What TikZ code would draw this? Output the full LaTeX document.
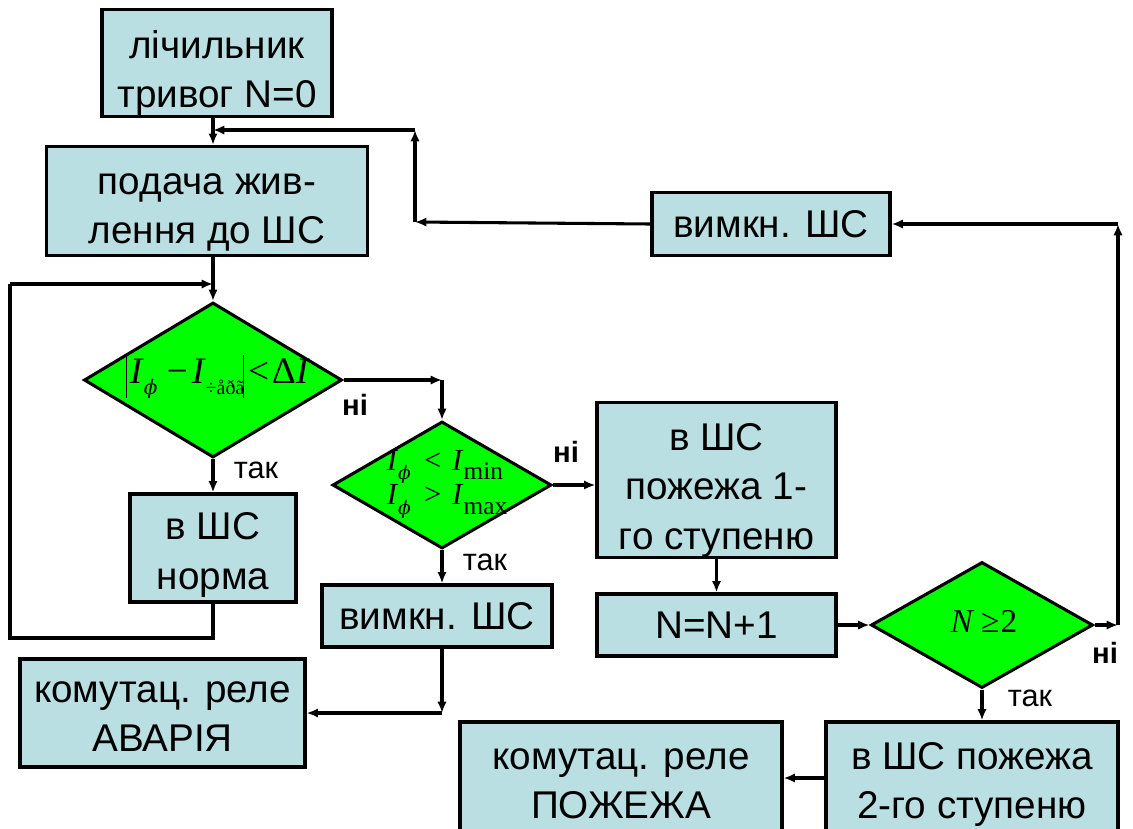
\documentclass[tikz,border=0pt]{standalone}
\usepackage{fontspec}
\setmainfont{Liberation Sans}
\newfontfamily\formfont{Liberation Serif}
\newfontfamily\grfont{DejaVu Serif}
\usetikzlibrary{shapes.geometric,arrows.meta}
\definecolor{boxfill}{RGB}{186,223,227}
\definecolor{decfill}{RGB}{0,255,0}
% lowered index for the formulas
\newcommand\lowidx[2]{\raisebox{-0.3em}{\fontsize{#1}{#1}\selectfont #2}}
\newcommand\phiidx{{\grfont\itshape ϕ}}
\newcommand\absbar{\rule[-0.4em]{0.8pt}{1.16em}}
% invisible strut that pushes a block's text down
\newcommand\topgap[1]{\rule{0pt}{#1}}
\begin{document}
\begin{tikzpicture}[x=0.75pt,y=-0.75pt,
  sz/.style 2 args={minimum width={#1*0.75pt},minimum height={#2*0.75pt}},
  block/.style={draw=black,line width=2.4pt,fill=boxfill,align=center,
    font=\fontsize{29}{37}\selectfont,inner sep=0pt},
  decision/.style={diamond,draw=black,line width=2.3pt,fill=decfill,
    inner sep=0pt,aspect=1.7},
  conn/.style={line width=2.3pt,-{Latex[length=8.5pt,width=7pt]}},
  plain/.style={line width=2.3pt},
  lbl/.style={font=\fontsize{23}{26}\selectfont,inner sep=0pt},
  nolbl/.style={font=\bfseries\fontsize{22}{26}\selectfont,inner sep=0pt},
  formula/.style={inner sep=0pt,anchor=base}
]
\useasboundingbox (0,0) rectangle (1133,829);
\clip (0,0) rectangle (1133,829);

% processing blocks
\node[block,sz={230}{107}] (b1) at (217,63) {\topgap{36pt}лічильник\\тривог N=0};
\node[block,sz={321}{109}] (b2) at (207,201) {\topgap{33pt}подача жив-\\лення до ШС};
\node[block,sz={166}{108}] (b4) at (213,548) {\topgap{31pt}в ШС\\норма};
\node[block,sz={230}{62}] (b6) at (437,616) {вимкн. ШС};
\node[block,sz={285}{108}] (b7) at (162.5,713) {\topgap{21pt}комутац. реле\\АВАРІЯ};
\node[block,sz={239}{154}] (b8) at (716.5,480) {\topgap{36pt}в ШС\\пожежа 1-\\го ступеню};
\node[block,sz={239}{62}] (b9) at (716.5,625) {N=N+1};
\node[block,sz={238}{63}] (b11) at (771,224) {вимкн. ШС};
\node[block,sz={292}{112}] (b12) at (972,778) {\topgap{30pt}в ШС пожежа\\2-го ступеню};
\node[block,sz={322}{112}] (b13) at (621,778) {\topgap{24pt}комутац. реле\\ПОЖЕЖА};

% decisions
\node[decision,sz={258}{155}] (d1) at (213,380) {};
\node[decision,sz={219}{127}] (d2) at (442,485) {};
\node[decision,sz={222}{126}] (d3) at (982,625) {};

% conditions
\node[formula,font=\formfont\fontsize{28}{30}\selectfont] (f1) at (218,383)
  {\absbar\kern2pt\textit{I}\lowidx{15}{\phiidx}\kern7pt−\kern3pt\textit{I}\lowidx{15}{÷åðã}\kern-1pt\absbar\kern3pt<\kern2pt Δ\textit{I}};
\node[formula,font=\formfont\fontsize{23}{26}\selectfont,align=left,anchor=center] (f2) at (447,484)
  {\textit{I}\lowidx{14}{\phiidx}\kern10pt<\kern8pt\textit{I}\lowidx{19}{min}\\
   \textit{I}\lowidx{14}{\phiidx}\kern10pt>\kern8pt\textit{I}\lowidx{19}{max}};
\node[formula,font=\formfont\fontsize{25}{30}\selectfont] (f3) at (984,632)
  {\textit{N}\kern5pt≥\kern1pt2};

% branch labels
\node[lbl] (t1) at (256,470) {так};
\node[nolbl] (n1) at (355,405) {ні};
\node[nolbl] (n2) at (566,452) {ні};
\node[lbl] (t2) at (485,562) {так};
\node[nolbl] (n3) at (1105,653) {ні};
\node[lbl] (t3) at (1030,698) {так};

% bend points of the connectors
\coordinate (rA) at (415,222);
\coordinate (rB) at (415,130);
\coordinate (rC) at (213,130);
\coordinate (lpB) at (10,638);
\coordinate (lpC) at (10,284);
\coordinate (c1) at (d2.north |- d1.east);
\coordinate (c2) at (d2.south |- b7.east);
\coordinate (c3) at (1118,625);
\coordinate (c4) at (c3 |- b11.east);

% main chain
\draw[conn] (b1.south -| rC) -- (b2.north -| rC);
\draw[conn] (b2.south -| d1.north) -- (d1.north);
\draw[conn] (d1.south) -- (b4.north);
\draw[conn] (d1.east) -- (c1);
\draw[conn] (c1) -- (d2.north);
\draw[conn] (d2.east) -- (d2.east -| b8.west);
\draw[conn] (d2.south) -- (d2.south |- b6.north);
\draw[conn] (b6.south -| c2) -- (c2);
\draw[conn] (c2) -- (b7.east);
\draw[conn] (b8.south) -- (b9.north);
\draw[conn] (b9.east) -- (d3.west);
\draw[conn] (d3.south) -- (d3.south |- b12.north);
\draw[conn] (b12.west) -- (b13.east);

% return to the normal check
\draw[plain] (b4.south) |- (lpB) -- (lpC);
\draw[conn] (lpC) -- (lpC -| d1.north);

% second alarm: back to the power supply
\draw[conn] (d3.east) -- (c3);
\draw[conn] (c3) -- (c4);
\draw[conn] (c4) -- (b11.east);
\draw[conn] (b11.west) -- (rA);
\draw[conn] (rA) -- (rB);
\draw[conn] (rB) -- (rC);
\end{tikzpicture}
\end{document}
